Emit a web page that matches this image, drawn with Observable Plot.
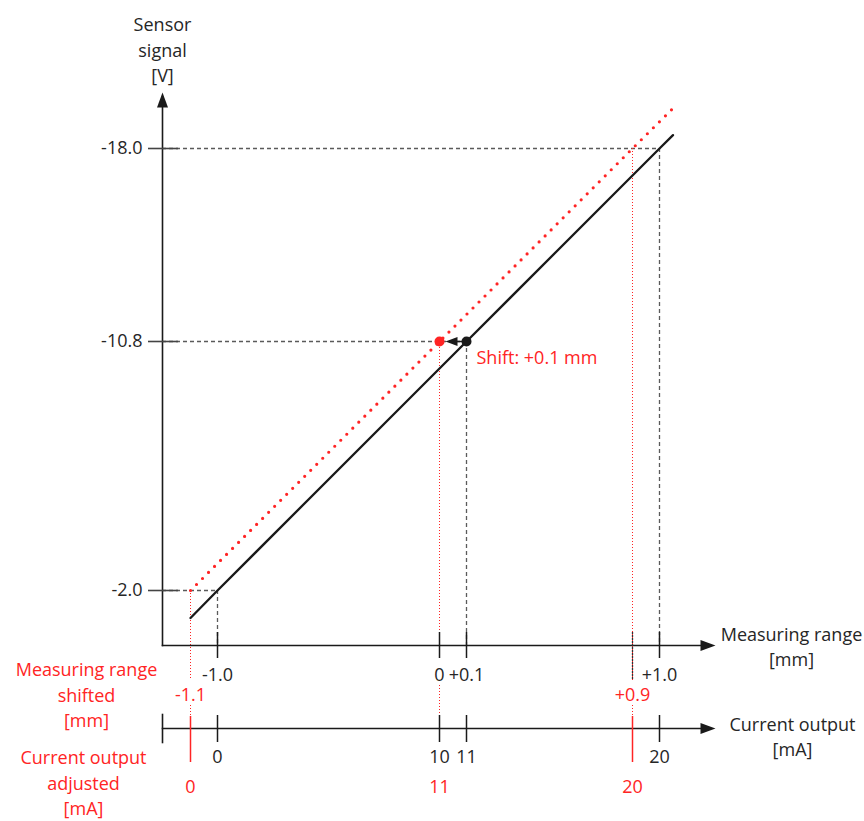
<!DOCTYPE html>
<html>
<head>
<meta charset="utf-8">
<script src="https://cdn.jsdelivr.net/npm/d3@7"></script>
<script src="https://cdn.jsdelivr.net/npm/@observablehq/plot@0.6"></script>
<style>
  html, body { margin: 0; padding: 0; background: #fff; }
  #chart svg { display: block; }
</style>
</head>
<body>
<div id="chart"></div>
<script>
// ---------- data ----------
// Sensor signal ticks [V]
const yTicks = [-18.0, -10.8, -2.0];
const yTickLabels = ["-18.0", "-10.8", "-2.0"];

// Measuring range ticks [mm]
const measTicks = [-1.0, 0, 0.1, 1.0];
const measLabels = ["-1.0", "0", "+0.1", "+1.0"];

// Shifted measuring range ticks [mm]
const shiftTicks = [-1.1, 0.9];
const shiftLabels = ["-1.1", "+0.9"];

// Current output [mA] at measuring-range positions [mm]
const currentMm = [-1.0, 0, 0.1, 1.0];
const currentLabels = ["0", "10", "11", "20"];

// Adjusted current output [mA] at shifted positions [mm]
const adjustedMm = [-1.1, 0, 0.9];
const adjustedLabels = ["0", "11", "20"];

// Characteristic lines (mm, V)
const blackMm = [-1.1, -1.0, 0.1, 1.0, 1.05];
const blackV  = [-1.0, -2.0, -10.8, -18.0, -18.5];
const redMm   = [-1.1, 0, 0.9, 1.05];
const redV    = [-2.0, -10.8, -18.0, -19.5];

// Reference points
const blackPtMm = [-1.0, 0.1, 1.0];
const blackPtV  = [-2.0, -10.8, -18.0];
const redPtMm   = [-1.1, 0, 0.9];
const redPtV    = [-2.0, -10.8, -18.0];

// Shift marker
const shiftFrom = {mm: 0.1, v: -10.8};
const shiftTo = {mm: 0, v: -10.8};
const shiftText = "Shift: +0.1 mm";

// origin of the diagram axes (mm, V)
const originMm = -1.2;
const originV = 0;

// ---------- build tables ----------
const blackLine = blackMm.map((mm, i) => ({mm, v: blackV[i]}));
const redLine = redMm.map((mm, i) => ({mm, v: redV[i]}));
const blackPts = blackPtMm.map((mm, i) => ({mm, v: blackPtV[i]}));
const redPts = redPtMm.map((mm, i) => ({mm, v: redPtV[i]}));
const yT = yTicks.map((v, i) => ({v, label: yTickLabels[i]}));
const measT = measTicks.map((mm, i) => ({mm, label: measLabels[i]}));
const shiftT = shiftTicks.map((mm, i) => ({mm, label: shiftLabels[i]}));
const curT = currentMm.map((mm, i) => ({mm, label: currentLabels[i]}));
const adjT = adjustedMm.map((mm, i) => ({mm, label: adjustedLabels[i]}));

// ---------- layout ----------
const W = 864, H = 821;
const mTop = 107, mLeft = 162, mRight = 164, mBottom = 176;
const frameH = H - mTop - mBottom;   // 538
const frameW = W - mLeft - mRight;   // 538
const LOW = 83;                      // offset of current-output axis below measuring axis
const RED = "#ff2424";
const INK = "#1a1a1a";
const TXT = "#262626";
const GUIDE = "#5a5a5a";
const FONT = 18;
const LH = 1.4;

// vertical segment at data x, spanning pixel offsets (top..bottom) relative to the measuring axis
const vseg = (data, top, bottom, opts) =>
  Plot.ruleX(data, {x: "mm", insetTop: frameH + top, insetBottom: -bottom, ...opts});

const chart = Plot.plot({
  width: W,
  height: H,
  marginTop: mTop,
  marginLeft: mLeft,
  marginRight: mRight,
  marginBottom: mBottom,
  x: {type: "linear", domain: [originMm, -1.1, -1.0, 0, 0.1, 0.9, 1.0], range: [162, 190, 217, 439, 466, 632, 659], axis: null},
  y: {type: "linear", domain: [originV, -2.0, -10.8, -18.0], range: [645, 590, 341, 148], axis: null},
  style: {fontFamily: "'Open Sans', 'Noto Sans', sans-serif", fontSize: FONT + "px", background: "#fff", color: TXT},
  marks: [
    // dashed guides (black characteristic)
    Plot.ruleY(blackPts, {y: "v", x1: () => originMm, x2: "mm", stroke: GUIDE, strokeWidth: 1.3, strokeDasharray: "4,3"}),
    Plot.ruleX(blackPts, {x: "mm", y1: "v", y2: () => originV, stroke: GUIDE, strokeWidth: 1.3, strokeDasharray: "4,3"}),

    // red dotted guides
    Plot.ruleX(redPts.filter(d => d.mm !== 0), {x: "mm", y1: "v", y2: () => originV, insetBottom: -35, stroke: RED, strokeWidth: 1, strokeDasharray: "1,2"}),
    Plot.ruleX(redPts.filter(d => d.mm === 0), {x: "mm", y1: "v", y2: () => originV, insetBottom: -13, stroke: RED, strokeWidth: 1, strokeDasharray: "1,2"}),
    vseg(redPts.filter(d => d.mm === 0), 40, 70, {stroke: RED, strokeWidth: 1, strokeDasharray: "1,2"}),
    vseg(redPts.filter(d => d.mm !== 0), 60, 72, {stroke: RED, strokeWidth: 1, strokeDasharray: "1,2"}),

    // axes
    Plot.frame({anchor: "left", stroke: INK, strokeWidth: 1.6}),
    Plot.frame({anchor: "bottom", stroke: INK, strokeWidth: 1.6}),
    Plot.frame({anchor: "bottom", dy: LOW, stroke: INK, strokeWidth: 1.6}),
    Plot.frame({anchor: "left", insetTop: frameH + LOW - 14, insetBottom: -(LOW + 14), stroke: INK, strokeWidth: 1.6}),
    Plot.vector([0], {frameAnchor: "top-left", length: 15, r: 5.5, rotate: 0, anchor: "start", shape: "spike", fill: INK, stroke: "none"}),
    Plot.vector([0], {frameAnchor: "bottom-right", length: 15, r: 5.5, rotate: 90, anchor: "start", shape: "spike", fill: INK, stroke: "none"}),
    Plot.vector([0], {frameAnchor: "bottom-right", dy: LOW, length: 15, r: 5.5, rotate: 90, anchor: "start", shape: "spike", fill: INK, stroke: "none"}),

    // y ticks + labels
    Plot.ruleY(yT, {y: "v", insetLeft: -14, insetRight: frameW - 16, stroke: "#444", strokeWidth: 1.6}),
    Plot.text(yT, {y: "v", text: "label", frameAnchor: "left", dx: -20, textAnchor: "end", lineAnchor: "middle", fill: TXT, fontSize: FONT}),

    // measuring-range ticks
    vseg(measT, -13, 13, {stroke: INK, strokeWidth: 1.5}),
    vseg(shiftT.filter(d => d.mm > 0), -13, 35, {stroke: "#333", strokeWidth: 1.3, strokeDasharray: "2,1"}),
    Plot.text(measT, {x: "mm", text: "label", frameAnchor: "bottom", dy: 30, lineAnchor: "middle", fill: TXT, fontSize: FONT}),
    Plot.text(shiftT, {x: "mm", text: "label", frameAnchor: "bottom", dy: 50, lineAnchor: "middle", fill: RED, fontSize: FONT}),

    // current-output ticks
    vseg(curT, LOW - 13, LOW + 14, {stroke: INK, strokeWidth: 1.5}),
    vseg(adjT.filter(d => d.mm !== 0), LOW - 12, LOW + 34, {stroke: RED, strokeWidth: 1.5}),
    Plot.text(curT, {x: "mm", text: "label", frameAnchor: "bottom", dy: LOW + 29, lineAnchor: "middle", fill: TXT, fontSize: FONT}),
    Plot.text(adjT, {x: "mm", text: "label", frameAnchor: "bottom", dy: LOW + 59, lineAnchor: "middle", fill: RED, fontSize: FONT}),

    // characteristic lines
    Plot.line(redLine, {x: "mm", y: "v", stroke: RED, strokeWidth: 3.2, strokeDasharray: "0,8.5", strokeLinecap: "round"}),
    Plot.line(blackLine, {x: "mm", y: "v", stroke: INK, strokeWidth: 2.3}),

    // shift marker
    Plot.ruleY([shiftFrom], {y: "v", x1: () => shiftTo.mm, x2: "mm", insetLeft: 16, insetRight: 3, stroke: INK, strokeWidth: 1.5}),
    Plot.vector([shiftTo], {x: "mm", y: "v", dx: 6, length: 12, r: 4.5, rotate: -90, anchor: "end", shape: "spike", fill: INK, stroke: "none"}),
    Plot.dot([shiftTo], {x: "mm", y: "v", r: 5, fill: RED, stroke: "none"}),
    Plot.dot([shiftFrom], {x: "mm", y: "v", r: 5, fill: INK, stroke: "none"}),
    Plot.text([shiftFrom], {x: "mm", y: "v", text: () => shiftText, dx: 10, dy: 17, textAnchor: "start", lineAnchor: "middle", fill: RED, fontSize: FONT}),

    // axis titles
    Plot.text(["Sensor\nsignal\n[V]"], {frameAnchor: "top-left", dy: -59, textAnchor: "middle", lineAnchor: "middle", lineHeight: LH, fill: TXT, fontSize: FONT}),
    Plot.text(["Measuring range\n[mm]"], {frameAnchor: "bottom-right", dx: 91, dy: 0, textAnchor: "middle", lineAnchor: "middle", lineHeight: LH, fill: TXT, fontSize: FONT}),
    Plot.text(["Current output\n[mA]"], {frameAnchor: "bottom-right", dx: 92, dy: LOW + 7, textAnchor: "middle", lineAnchor: "middle", lineHeight: LH, fill: TXT, fontSize: FONT}),
    Plot.text(["Measuring range\nshifted\n[mm]"], {frameAnchor: "bottom-left", dx: -76, dy: 48, textAnchor: "middle", lineAnchor: "middle", lineHeight: LH, fill: RED, fontSize: FONT}),
    Plot.text(["Current output\nadjusted\n[mA]"], {frameAnchor: "bottom-left", dx: -79, dy: LOW + 53, textAnchor: "middle", lineAnchor: "middle", lineHeight: LH, fill: RED, fontSize: FONT})
  ]
});
document.getElementById("chart").appendChild(chart);
</script>
</body>
</html>
